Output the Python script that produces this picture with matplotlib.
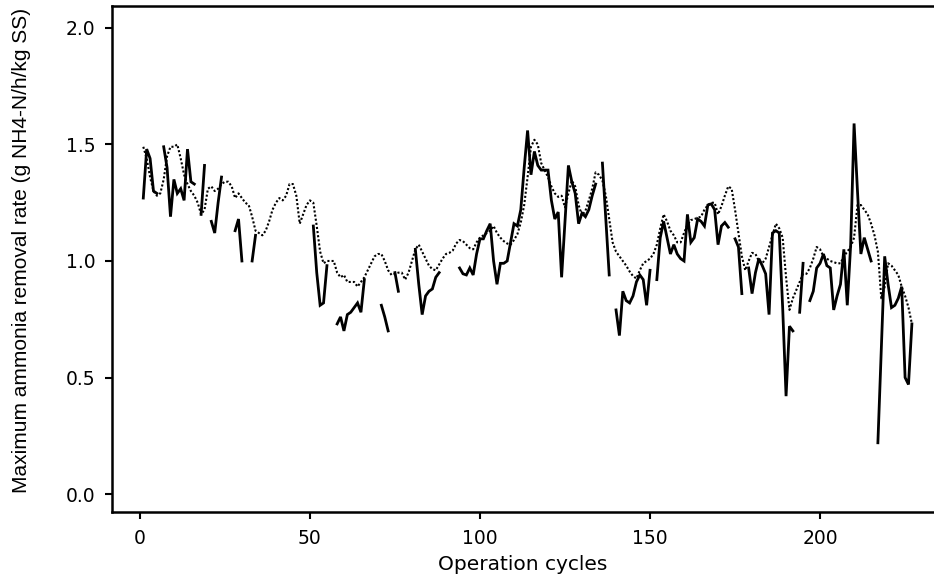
import numpy as np
import matplotlib
matplotlib.use("Agg")
import matplotlib.pyplot as plt
from matplotlib import font_manager

nan = np.nan

cycles = list(range(1, 228))

measured = [
    1.27, 1.48, 1.44, 1.30, 1.29, nan, 1.49, 1.40, 1.19, 1.35,      # 1-10
    1.29, 1.31, 1.26, 1.48, 1.34, 1.33, nan, 1.20, 1.41, nan,       # 11-20
    1.17, 1.12, 1.25, 1.36, nan, nan, nan, 1.13, 1.18, 1.00,        # 21-30
    nan, nan, 1.00, 1.11, nan, nan, nan, nan, nan, nan,             # 31-40
    nan, nan, nan, nan, nan, nan, nan, nan, nan, nan,               # 41-50
    1.15, 0.95, 0.81, 0.82, 0.98, nan, nan, 0.73, 0.76, 0.70,       # 51-60
    0.77, 0.78, 0.80, 0.82, 0.78, 0.92, nan, nan, nan, nan,         # 61-70
    0.81, 0.76, 0.70, nan, 0.95, 0.87, nan, nan, nan, nan,          # 71-80
    1.05, 0.90, 0.77, 0.85, 0.87, 0.88, 0.93, 0.95, nan, nan,       # 81-90
    nan, nan, nan, 0.97, 0.945, 0.94, 0.97, 0.94, 1.03, 1.095,      # 91-100
    1.095, 1.13, 1.16, 1.00, 0.90, 0.99, 0.99, 1.00, 1.08, 1.16,    # 101-110
    1.15, 1.22, 1.40, 1.56, 1.37, 1.47, 1.41, 1.39, 1.39, 1.39,     # 111-120
    1.26, 1.18, 1.21, 0.93, 1.17, 1.41, 1.34, 1.29, 1.16, 1.205,    # 121-130
    1.19, 1.22, 1.28, 1.33, nan, 1.42, 1.18, 0.94, nan, 0.79,       # 131-140
    0.68, 0.87, 0.83, 0.82, 0.85, 0.91, 0.94, 0.92, 0.81, 0.96,     # 141-150
    nan, 0.92, 1.10, 1.17, 1.10, 1.03, 1.07, 1.03, 1.01, 1.00,      # 151-160
    1.20, 1.08, 1.10, 1.18, 1.17, 1.15, 1.24, 1.245, 1.22, 1.07,    # 161-170
    1.15, 1.165, 1.145, nan, 1.095, 1.06, 0.86, nan, 0.97, 0.86,    # 171-180
    0.95, 1.01, 0.98, 0.945, 0.77, 1.12, 1.13, 1.12, 0.80, 0.42,    # 181-190
    0.72, 0.70, nan, 0.78, 0.99, nan, 0.83, 0.87, 0.97, 0.99,       # 191-200
    1.03, 0.98, 0.97, 0.79, 0.85, 0.90, 1.05, 0.81, 1.07, 1.59,     # 201-210
    1.30, 1.03, 1.10, 1.05, 1.00, nan, 0.22, 0.62, 1.02, 0.90,      # 211-220
    0.80, 0.81, 0.84, 0.89, 0.50, 0.47, 0.73,                       # 221-227
]

predicted = [
    1.49, 1.44, 1.36, 1.30, 1.28, 1.29, 1.35, 1.45, 1.49, 1.49,     # 1-10
    1.50, 1.44, 1.37, 1.33, 1.30, 1.28, 1.25, 1.20, 1.22, 1.31,     # 11-20
    1.32, 1.30, 1.31, 1.33, 1.34, 1.34, 1.32, 1.27, 1.29, 1.27,     # 21-30
    1.25, 1.24, 1.19, 1.13, 1.12, 1.11, 1.13, 1.17, 1.22, 1.25,     # 31-40
    1.27, 1.26, 1.28, 1.33, 1.33, 1.28, 1.16, 1.20, 1.24, 1.26,     # 41-50
    1.25, 1.15, 1.04, 0.99, 1.00, 1.00, 1.00, 0.95, 0.93, 0.94,     # 51-60
    0.91, 0.91, 0.91, 0.89, 0.91, 0.93, 0.96, 0.99, 1.02, 1.03,     # 61-70
    1.03, 1.00, 0.96, 0.94, 0.945, 0.95, 0.95, 0.92, 0.95, 1.00,    # 71-80
    1.05, 1.07, 1.04, 1.01, 0.98, 0.965, 0.96, 0.985, 1.01, 1.03,   # 81-90
    1.035, 1.045, 1.075, 1.09, 1.085, 1.07, 1.055, 1.05, 1.08, 1.10,  # 91-100
    1.11, 1.12, 1.13, 1.15, 1.12, 1.10, 1.085, 1.075, 1.07, 1.09,   # 101-110
    1.115, 1.165, 1.24, 1.36, 1.49, 1.52, 1.50, 1.42, 1.39, 1.36,   # 111-120
    1.32, 1.29, 1.275, 1.28, 1.23, 1.29, 1.345, 1.32, 1.24, 1.195,  # 121-130
    1.215, 1.26, 1.31, 1.38, 1.37, 1.345, 1.28, 1.18, 1.08, 1.04,   # 131-140
    1.02, 1.00, 0.98, 0.955, 0.935, 0.925, 0.96, 0.99, 1.00, 1.01,  # 141-150
    1.03, 1.07, 1.14, 1.20, 1.17, 1.13, 1.11, 1.08, 1.08, 1.12,     # 151-160
    1.155, 1.175, 1.18, 1.185, 1.19, 1.22, 1.24, 1.25, 1.25, 1.20,  # 161-170
    1.235, 1.28, 1.32, 1.31, 1.22, 1.12, 1.02, 0.96, 1.00, 1.035,   # 171-180
    1.03, 1.00, 0.99, 1.01, 1.06, 1.11, 1.16, 1.14, 1.10, 0.93,     # 181-190
    0.79, 0.84, 0.875, 0.91, 0.945, 0.945, 0.97, 1.01, 1.06, 1.05,  # 191-200
    1.02, 1.01, 1.00, 0.995, 0.99, 0.99, 1.02, 1.04, 1.06, 1.10,    # 201-210
    1.24, 1.24, 1.22, 1.20, 1.16, 1.11, 1.04, 0.84, 0.89, 0.99,     # 211-220
    0.98, 0.96, 0.94, 0.89, 0.85, 0.80, 0.73,                       # 221-227
]

x_ticks = [0, 50, 100, 150, 200]
y_ticks = [0.0, 0.5, 1.0, 1.5, 2.0]
y_tick_labels = ["0.0", "0.5", "1.0", "1.5", "2.0"]

avail = {f.name for f in font_manager.fontManager.ttflist}
narrow = "Liberation Sans Narrow" if "Liberation Sans Narrow" in avail else "Liberation Sans"

fig = plt.figure(figsize=(9.34, 5.77), dpi=100)
ax = fig.add_axes([112 / 934, 1 - 512 / 577, 1 - 112 / 934, (512 - 6) / 577])

ax.plot(cycles, predicted, color="black", lw=1.5, linestyle=(0, (1, 1.0)))
ax.plot(cycles, measured, color="black", lw=2.0, solid_joinstyle="miter")

ax.set_xlim(-8.2, 233.5)
ax.set_ylim(-0.077, 2.094)
ax.set_xticks(x_ticks)
ax.set_yticks(y_ticks)
ax.set_yticklabels(y_tick_labels)

for s in ["left", "bottom", "top"]:
    ax.spines[s].set_linewidth(1.8)
ax.spines["right"].set_visible(False)

ax.tick_params(axis="both", direction="out", length=5, width=1.5, labelsize=13.5,
               pad=7)
for lbl in ax.get_xticklabels() + ax.get_yticklabels():
    lbl.set_family("DejaVu Sans")

ax.set_xlabel("Operation cycles", fontsize=14.5, family="DejaVu Sans", labelpad=5)
fig.text(22 / 934, 1 - 250 / 577, "Maximum ammonia removal rate (g NH4-N/h/kg SS)",
         rotation=90, fontsize=15, family=narrow, ha="center", va="center")

fig.savefig("out.png", dpi=100)
